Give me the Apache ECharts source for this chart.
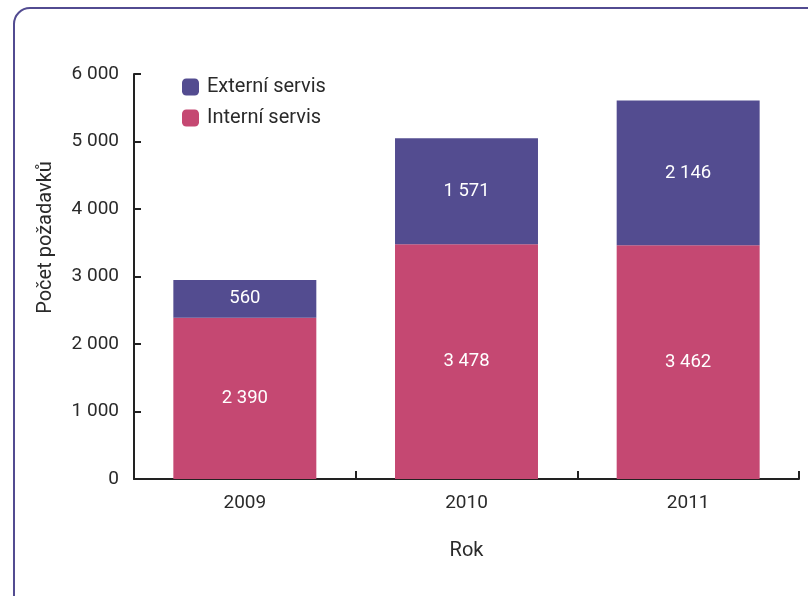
<!DOCTYPE html>
<html><head><meta charset="utf-8">
<script src="https://cdn.jsdelivr.net/npm/echarts@6/dist/echarts.min.js"></script>
<style>html,body{margin:0;padding:0;background:#fff}#c{width:808px;height:596px}</style>
</head><body><div id="c"></div>
<script>
const categories = ['2009', '2010', '2011'];
const interni = [2390, 3478, 3462];
const externi = [560, 1571, 2146];
const yTicks = [0, 1000, 2000, 3000, 4000, 5000, 6000];
const seriesNames = ['Externí servis', 'Interní servis'];

const fmt = v => String(v).replace(/\B(?=(\d{3})+(?!\d))/g, ' ');
const FONT = 'Roboto';
const chart = echarts.init(document.getElementById('c'), null, {renderer: 'canvas'});
chart.setOption({
  animation: false,
  textStyle: {fontFamily: FONT},
  graphic: [{
    type: 'rect', z: -10, silent: true,
    shape: {x: 14, y: 8, width: 1000, height: 800, r: 16},
    style: {fill: 'none', stroke: '#524b91', lineWidth: 2}
  }],
  legend: {
    orient: 'vertical', left: 177, top: 72, itemWidth: 17, itemHeight: 17, itemGap: 11,
    icon: 'roundRect',
    textStyle: {fontSize: 20, color: '#2a2a2a', fontFamily: FONT, padding: [0, 0, 0, 3]},
    data: seriesNames
  },
  grid: {left: 134, right: 9, top: 74, bottom: 117},
  xAxis: {
    type: 'category', data: categories,
    name: 'Rok', nameLocation: 'middle', nameGap: 62,
    nameTextStyle: {fontSize: 20, color: '#2a2a2a'},
    axisLine: {lineStyle: {color: '#222', width: 2}},
    axisTick: {show: true, inside: true, length: 8, lineStyle: {color: '#222', width: 2}},
    axisLabel: {fontSize: 19, color: '#2a2a2a', margin: 15}
  },
  yAxis: {
    type: 'value', min: yTicks[0], max: yTicks[yTicks.length - 1], interval: 1000,
    name: 'Počet požadavků', nameLocation: 'middle', nameGap: 78, nameRotate: 90,
    nameTextStyle: {fontSize: 20, color: '#2a2a2a', padding: [0, 0, 0, 78]},
    axisLine: {show: true, lineStyle: {color: '#222', width: 2}},
    axisTick: {show: true, inside: true, length: 7, lineStyle: {color: '#222', width: 2}},
    splitLine: {show: false},
    axisLabel: {fontSize: 19, color: '#2a2a2a', margin: 15, formatter: fmt}
  },
  series: [
    {name: seriesNames[1], type: 'bar', stack: 's', data: interni, barWidth: '64.5%',
     itemStyle: {color: '#c54872'},
     label: {show: true, position: 'inside', color: '#fff', fontSize: 18.5, formatter: p => fmt(p.value)}},
    {name: seriesNames[0], type: 'bar', stack: 's', data: externi, barWidth: '64.5%',
     itemStyle: {color: '#534c90'},
     label: {show: true, position: 'inside', color: '#fff', fontSize: 18.5, formatter: p => fmt(p.value)}}
  ]
});
</script></body></html>
